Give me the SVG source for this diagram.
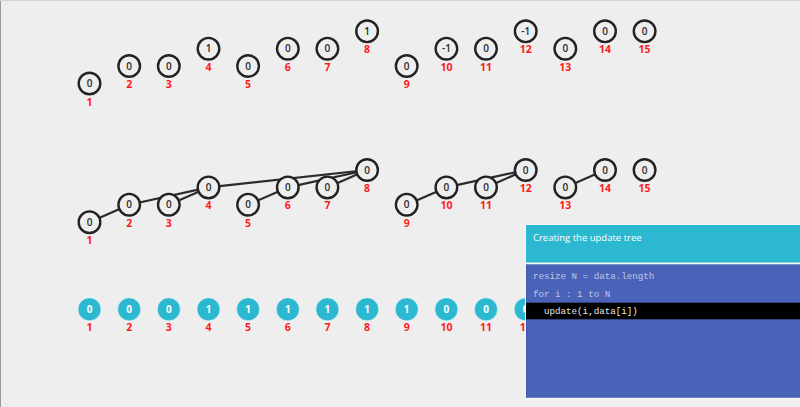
<svg xmlns="http://www.w3.org/2000/svg" width="800" height="407" viewBox="0 0 800 407">
<style>
.bg{fill:#eeeeee}
.n circle{fill:#eeeeee;stroke:#222;stroke-width:2.4}
.n text.v{font-family:"Open Sans","DejaVu Sans",sans-serif;font-size:10px;font-weight:600;fill:#2a2a2a;text-anchor:middle}
.b circle{fill:#2cb8d0;stroke:#e4f4f7;stroke-width:0.8}
.b text.v{font-family:"Open Sans","DejaVu Sans",sans-serif;font-size:10px;font-weight:bold;fill:#fff;text-anchor:middle}
text.l{font-family:"Open Sans","DejaVu Sans",sans-serif;font-size:10.5px;font-weight:bold;fill:#ff1a1a;text-anchor:middle}
.e line{stroke:#2b2b2b;stroke-width:2.2}
.code{font-family:"Liberation Mono","DejaVu Sans Mono",monospace;font-size:9.2px;fill:#bfc6e6;white-space:pre}
</style>
<rect class="bg" x="0" y="0" width="800" height="407"/>
<line x1="0.5" y1="0" x2="0.5" y2="407" stroke="#9a9a9a" stroke-width="1"/>
<line x1="0" y1="0.5" x2="800" y2="0.5" stroke="#d4d4d4" stroke-width="1"/>

<!-- top row -->
<g id="top">
<g id="t1" class="n"><circle cx="89.5" cy="83.5" r="10.8"/><text class="v" x="89.5" y="87">0</text><text class="l" x="89.5" y="105.5">1</text></g>
<g id="t2" class="n"><circle cx="129.2" cy="66" r="10.8"/><text class="v" x="129.2" y="69.5">0</text><text class="l" x="129.2" y="88">2</text></g>
<g id="t3" class="n"><circle cx="168.8" cy="66" r="10.8"/><text class="v" x="168.8" y="69.5">0</text><text class="l" x="168.8" y="88">3</text></g>
<g id="t4" class="n"><circle cx="208.5" cy="48.7" r="10.8"/><text class="v" x="208.5" y="52.2">1</text><text class="l" x="208.5" y="70.7">4</text></g>
<g id="t5" class="n"><circle cx="248.1" cy="66" r="10.8"/><text class="v" x="248.1" y="69.5">0</text><text class="l" x="248.1" y="88">5</text></g>
<g id="t6" class="n"><circle cx="287.8" cy="48.7" r="10.8"/><text class="v" x="287.8" y="52.2">0</text><text class="l" x="287.8" y="70.7">6</text></g>
<g id="t7" class="n"><circle cx="327.4" cy="48.7" r="10.8"/><text class="v" x="327.4" y="52.2">0</text><text class="l" x="327.4" y="70.7">7</text></g>
<g id="t8" class="n"><circle cx="367.1" cy="31.3" r="10.8"/><text class="v" x="367.1" y="34.8">1</text><text class="l" x="367.1" y="53.3">8</text></g>
<g id="t9" class="n"><circle cx="406.7" cy="66" r="10.8"/><text class="v" x="406.7" y="69.5">0</text><text class="l" x="406.7" y="88">9</text></g>
<g id="t10" class="n"><circle cx="446.4" cy="48.7" r="10.8"/><text class="v" x="446.4" y="52.2">-1</text><text class="l" x="446.4" y="70.7">10</text></g>
<g id="t11" class="n"><circle cx="486" cy="48.7" r="10.8"/><text class="v" x="486" y="52.2">0</text><text class="l" x="486" y="70.7">11</text></g>
<g id="t12" class="n"><circle cx="525.7" cy="31.3" r="10.8"/><text class="v" x="525.7" y="34.8">-1</text><text class="l" x="525.7" y="53.3">12</text></g>
<g id="t13" class="n"><circle cx="565.3" cy="48.7" r="10.8"/><text class="v" x="565.3" y="52.2">0</text><text class="l" x="565.3" y="70.7">13</text></g>
<g id="t14" class="n"><circle cx="605" cy="31.3" r="10.8"/><text class="v" x="605" y="34.8">0</text><text class="l" x="605" y="53.3">14</text></g>
<g id="t15" class="n"><circle cx="644.6" cy="31.3" r="10.8"/><text class="v" x="644.6" y="34.8">0</text><text class="l" x="644.6" y="53.3">15</text></g>
</g>

<!-- middle row connectors -->
<g id="connectors" class="e">
<line x1="89.5" y1="222.2" x2="129.2" y2="204.7"/>
<line x1="129.2" y1="204.7" x2="208.5" y2="187.4"/>
<line x1="168.8" y1="204.7" x2="208.5" y2="187.4"/>
<line x1="208.5" y1="187.4" x2="367.1" y2="170"/>
<line x1="248.1" y1="204.7" x2="287.8" y2="187.4"/>
<line x1="287.8" y1="187.4" x2="367.1" y2="170"/>
<line x1="327.4" y1="187.4" x2="367.1" y2="170"/>
<line x1="406.7" y1="204.7" x2="446.4" y2="187.4"/>
<line x1="446.4" y1="187.4" x2="525.7" y2="170"/>
<line x1="486" y1="187.4" x2="525.7" y2="170"/>
<line x1="565.3" y1="187.4" x2="605" y2="170"/>
</g>

<!-- middle row -->
<g id="mid">
<g id="m1" class="n"><circle cx="89.5" cy="222.2" r="10.8"/><text class="v" x="89.5" y="225.7">0</text><text class="l" x="89.5" y="244.2">1</text></g>
<g id="m2" class="n"><circle cx="129.2" cy="204.7" r="10.8"/><text class="v" x="129.2" y="208.2">0</text><text class="l" x="129.2" y="226.7">2</text></g>
<g id="m3" class="n"><circle cx="168.8" cy="204.7" r="10.8"/><text class="v" x="168.8" y="208.2">0</text><text class="l" x="168.8" y="226.7">3</text></g>
<g id="m4" class="n"><circle cx="208.5" cy="187.4" r="10.8"/><text class="v" x="208.5" y="190.9">0</text><text class="l" x="208.5" y="209.4">4</text></g>
<g id="m5" class="n"><circle cx="248.1" cy="204.7" r="10.8"/><text class="v" x="248.1" y="208.2">0</text><text class="l" x="248.1" y="226.7">5</text></g>
<g id="m6" class="n"><circle cx="287.8" cy="187.4" r="10.8"/><text class="v" x="287.8" y="190.9">0</text><text class="l" x="287.8" y="209.4">6</text></g>
<g id="m7" class="n"><circle cx="327.4" cy="187.4" r="10.8"/><text class="v" x="327.4" y="190.9">0</text><text class="l" x="327.4" y="209.4">7</text></g>
<g id="m8" class="n"><circle cx="367.1" cy="170" r="10.8"/><text class="v" x="367.1" y="173.5">0</text><text class="l" x="367.1" y="192">8</text></g>
<g id="m9" class="n"><circle cx="406.7" cy="204.7" r="10.8"/><text class="v" x="406.7" y="208.2">0</text><text class="l" x="406.7" y="226.7">9</text></g>
<g id="m10" class="n"><circle cx="446.4" cy="187.4" r="10.8"/><text class="v" x="446.4" y="190.9">0</text><text class="l" x="446.4" y="209.4">10</text></g>
<g id="m11" class="n"><circle cx="486" cy="187.4" r="10.8"/><text class="v" x="486" y="190.9">0</text><text class="l" x="486" y="209.4">11</text></g>
<g id="m12" class="n"><circle cx="525.7" cy="170" r="10.8"/><text class="v" x="525.7" y="173.5">0</text><text class="l" x="525.7" y="192">12</text></g>
<g id="m13" class="n"><circle cx="565.3" cy="187.4" r="10.8"/><text class="v" x="565.3" y="190.9">0</text><text class="l" x="565.3" y="209.4">13</text></g>
<g id="m14" class="n"><circle cx="605" cy="170" r="10.8"/><text class="v" x="605" y="173.5">0</text><text class="l" x="605" y="192">14</text></g>
<g id="m15" class="n"><circle cx="644.6" cy="170" r="10.8"/><text class="v" x="644.6" y="173.5">0</text><text class="l" x="644.6" y="192">15</text></g>
</g>

<!-- bottom row -->
<g id="bottom">
<g id="b1" class="b"><circle cx="89.5" cy="309.3" r="11.6"/><text class="v" x="89.5" y="312.8">0</text><text class="l" x="89.5" y="330.8">1</text></g>
<g id="b2" class="b"><circle cx="129.2" cy="309.3" r="11.6"/><text class="v" x="129.2" y="312.8">0</text><text class="l" x="129.2" y="330.8">2</text></g>
<g id="b3" class="b"><circle cx="168.8" cy="309.3" r="11.6"/><text class="v" x="168.8" y="312.8">0</text><text class="l" x="168.8" y="330.8">3</text></g>
<g id="b4" class="b"><circle cx="208.5" cy="309.3" r="11.6"/><text class="v" x="208.5" y="312.8">1</text><text class="l" x="208.5" y="330.8">4</text></g>
<g id="b5" class="b"><circle cx="248.1" cy="309.3" r="11.6"/><text class="v" x="248.1" y="312.8">1</text><text class="l" x="248.1" y="330.8">5</text></g>
<g id="b6" class="b"><circle cx="287.8" cy="309.3" r="11.6"/><text class="v" x="287.8" y="312.8">1</text><text class="l" x="287.8" y="330.8">6</text></g>
<g id="b7" class="b"><circle cx="327.4" cy="309.3" r="11.6"/><text class="v" x="327.4" y="312.8">1</text><text class="l" x="327.4" y="330.8">7</text></g>
<g id="b8" class="b"><circle cx="367.1" cy="309.3" r="11.6"/><text class="v" x="367.1" y="312.8">1</text><text class="l" x="367.1" y="330.8">8</text></g>
<g id="b9" class="b"><circle cx="406.7" cy="309.3" r="11.6"/><text class="v" x="406.7" y="312.8">1</text><text class="l" x="406.7" y="330.8">9</text></g>
<g id="b10" class="b"><circle cx="446.4" cy="309.3" r="11.6"/><text class="v" x="446.4" y="312.8">0</text><text class="l" x="446.4" y="330.8">10</text></g>
<g id="b11" class="b"><circle cx="486" cy="309.3" r="11.6"/><text class="v" x="486" y="312.8">0</text><text class="l" x="486" y="330.8">11</text></g>
<g id="b12" class="b"><circle cx="525.7" cy="309.3" r="11.6"/><text class="v" x="525.7" y="312.8">0</text><text class="l" x="525.7" y="330.8">12</text></g>
</g>

<!-- info panel -->
<g id="panel">
<rect x="525" y="224" width="276" height="175.5" fill="#f7f7f7"/>
<rect x="526" y="225" width="274" height="37.5" fill="#2cb8d0"/>
<text x="533" y="241" font-family="'Open Sans','DejaVu Sans',sans-serif" font-size="9.5" fill="#ffffff">Creating the update tree</text>
<rect x="526" y="264.3" width="274" height="133.5" fill="#4a63b8"/>
<line x1="526.5" y1="264.3" x2="526.5" y2="397.8" stroke="#3f56a8" stroke-width="1"/>
<rect x="526" y="302.7" width="274" height="16.6" fill="#000000"/>
<text class="code" x="533" y="279.3">resize N = data.length</text>
<text class="code" x="533" y="296.7">for i : 1 to N</text>
<text class="code" x="533" y="314" style="fill:#e6e6e6">  update(i,data[i])</text>
</g>
</svg>
